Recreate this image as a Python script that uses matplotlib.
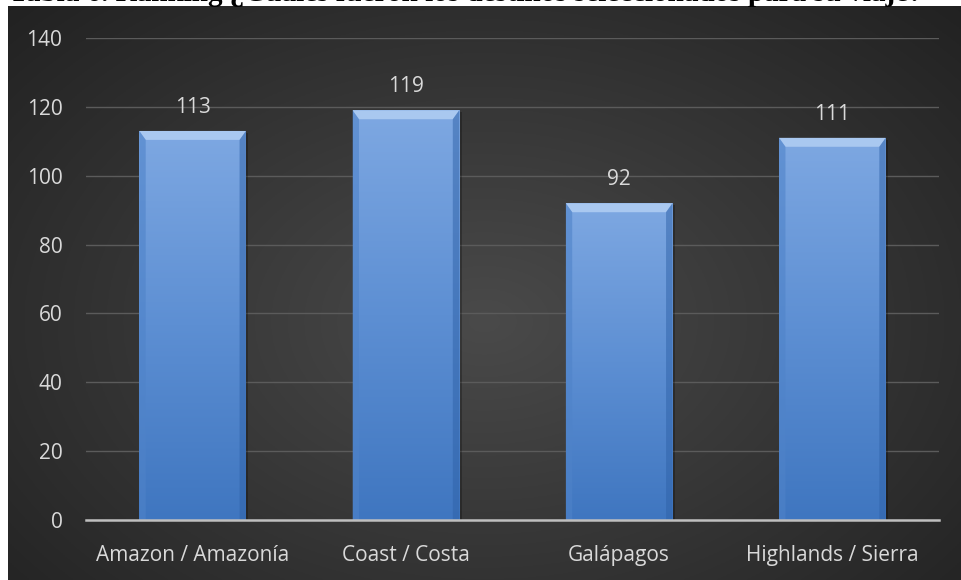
import matplotlib.pyplot as plt
import numpy as np

categories = ['Amazon / Amazonía', 'Coast / Costa', 'Galápagos', 'Highlands / Sierra']
values = [113, 119, 92, 111]
yticks = [0, 20, 40, 60, 80, 100, 120, 140]
title = 'Tabla 6. Ranking ¿Cuáles fueron los destinos seleccionados para su viaje?'

W, H = 961, 580
fig = plt.figure(figsize=(W / 100, H / 100), dpi=100)
fig.patch.set_facecolor('white')

# dark radial background panel
bg = fig.add_axes([8 / W, 0, 1 - 8 / W, 574 / H])
bg.set_axis_off()
yy, xx = np.mgrid[0:1:300j, 0:1:500j]
r = np.sqrt(((xx - 0.5) / 0.75) ** 2 + ((yy - 0.55) / 0.85) ** 2)
shade = 0.29 - 0.17 * np.clip(r, 0, 1)
bg.imshow(np.dstack([shade] * 3), aspect='auto', extent=[0, 1, 0, 1])
bg.set_xlim(0, 1)
bg.set_ylim(0, 1)

# title sits mostly above the top edge
fig.text(0.485, 1 - 1 / H, title, ha='center', va='baseline',
         fontsize=21, fontweight='bold', family='Liberation Serif', color='black')

ax = fig.add_axes([86 / W, (H - 520) / H, (939 - 86) / W, (520 - 38) / H])
ax.patch.set_alpha(0)
x = np.arange(len(categories))
ax.set_yticks(yticks)
ax.yaxis.grid(True, color='#5b5b5b', lw=1)
ax.set_axisbelow(True)
for s in ['top', 'right', 'left']:
    ax.spines[s].set_visible(False)
ax.spines['bottom'].set_color('#bfbfbf')
ax.spines['bottom'].set_linewidth(1.8)
ax.tick_params(length=0, colors='#d9d9d9', labelsize=15)
ax.tick_params(axis='y', pad=17)
ax.tick_params(axis='x', pad=18)
ax.set_xticks(x)
ax.set_xticklabels(categories, family='Open Sans')
for lab in ax.get_yticklabels():
    lab.set_family('Open Sans')

bw = 0.5
bars = ax.bar(x, values, width=bw, color='#5b8fd6', zorder=2)
grad = np.linspace(0, 1, 256).reshape(-1, 1)
cmap = plt.matplotlib.colors.LinearSegmentedColormap.from_list(
    'bluebar', ['#3f76c0', '#5d8fd3', '#7ea8e2'])
for b, v in zip(bars, values):
    x0 = b.get_x()
    # soft shadow
    ax.add_patch(plt.Rectangle((x0 + 0.012, 0), bw, v - 0.6, color='black',
                               alpha=0.25, zorder=1.5, lw=0))
    im = ax.imshow(grad, cmap=cmap, aspect='auto', origin='lower',
                   extent=[x0, x0 + bw, 0, v], zorder=2.1)
    im.set_clip_path(b)
    # bevel on top edge and sides
    bev = 2.6
    ax.add_patch(plt.Polygon([[x0, v], [x0 + bw, v], [x0 + bw - 0.03, v - bev],
                              [x0 + 0.03, v - bev]], color='#a9c8f0', lw=0, zorder=2.3))
    ax.add_patch(plt.Polygon([[x0, v], [x0 + 0.03, v - bev], [x0 + 0.03, 0], [x0, 0]],
                             color='#4f83c9', alpha=0.6, lw=0, zorder=2.3))
    ax.add_patch(plt.Polygon([[x0 + bw, v], [x0 + bw - 0.03, v - bev],
                              [x0 + bw - 0.03, 0], [x0 + bw, 0]],
                             color='#2f62a8', alpha=0.5, lw=0, zorder=2.3))
    ax.text(b.get_x() + bw / 2, v + 5.3, str(v), ha='center', va='baseline',
            color='#d9d9d9', fontsize=15, family='Open Sans')

ax.set_xlim(-0.5, len(categories) - 0.5)
ax.set_ylim(0, 140)

fig.savefig('out.png', dpi=100, facecolor=fig.get_facecolor())
